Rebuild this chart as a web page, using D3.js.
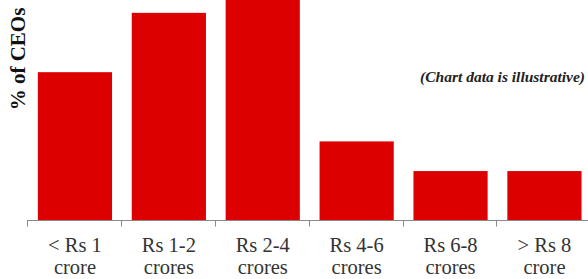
<!DOCTYPE html>
<html>
<head>
<meta charset="utf-8">
<script src="https://cdn.jsdelivr.net/npm/d3@7"></script>
<style>
  html, body { margin: 0; padding: 0; background: #fff; }
  svg { display: block; }
  .serif { font-family: "Liberation Serif", Tinos, "Times New Roman", Times, "DejaVu Serif", serif; }
</style>
</head>
<body>
<div id="chart"></div>
<script>
const categories = ["< Rs 1|crore", "Rs 1-2|crores", "Rs 2-4|crores", "Rs 4-6|crores", "Rs 6-8|crores", "> Rs 8|crore"];
const values = [15, 21, 24, 8, 5, 5];
const yLabel = "% of CEOs";
const note = "(Chart data is illustrative)";

const W = 588, H = 279;
const baseY = 220.5;

const svg = d3.select("#chart").append("svg").attr("width", W).attr("height", H);

const x = d3.scaleBand().domain(categories).range([28, 591.4]).paddingInner(0.21).paddingOuter(0.105);
const y = d3.scaleLinear().domain([0, 22.3]).range([baseY, 0]);

// bars
svg.append("g").selectAll("rect").data(values).join("rect")
  .attr("x", (d, i) => x(categories[i]))
  .attr("y", d => y(d))
  .attr("width", x.bandwidth())
  .attr("height", d => baseY - y(d))
  .attr("fill", "#dc0000");

// axis line + ticks at band boundaries
const tickPos = categories.map(c => x(c) - x.step() * x.paddingOuter() - 1);
const axis = svg.append("g").attr("stroke", "#8a8a8a").attr("stroke-width", 1);
axis.append("line").attr("x1", tickPos[0]).attr("x2", W).attr("y1", baseY).attr("y2", baseY);
axis.selectAll("line.tick").data(tickPos).join("line").attr("class", "tick")
  .attr("x1", d => Math.round(d) + 0.5).attr("x2", d => Math.round(d) + 0.5)
  .attr("y1", baseY).attr("y2", baseY + 6);

// category labels
const lab = svg.append("g").attr("class", "serif")
  .attr("font-size", 20.5).attr("fill", "#333").attr("text-anchor", "middle");
categories.forEach(c => {
  const parts = c.split("|");
  const cx = x(c) + x.bandwidth() / 2;
  const t = lab.append("text").attr("x", cx);
  t.append("tspan").attr("x", cx).attr("y", 252).text(parts[0]);
  t.append("tspan").attr("x", cx).attr("y", 274).text(parts[1]);
});

// y label
svg.append("text").attr("class", "serif")
  .attr("transform", "translate(25,59) rotate(-90)")
  .attr("text-anchor", "middle")
  .attr("font-weight", "bold").attr("font-size", 21).attr("fill", "#111")
  .text(yLabel);

// note
svg.append("text").attr("class", "serif")
  .attr("x", 585).attr("y", 82).attr("text-anchor", "end")
  .attr("font-weight", "bold").attr("font-style", "italic").attr("font-size", 15.5)
  .attr("fill", "#222")
  .text(note);
</script>
</body>
</html>
